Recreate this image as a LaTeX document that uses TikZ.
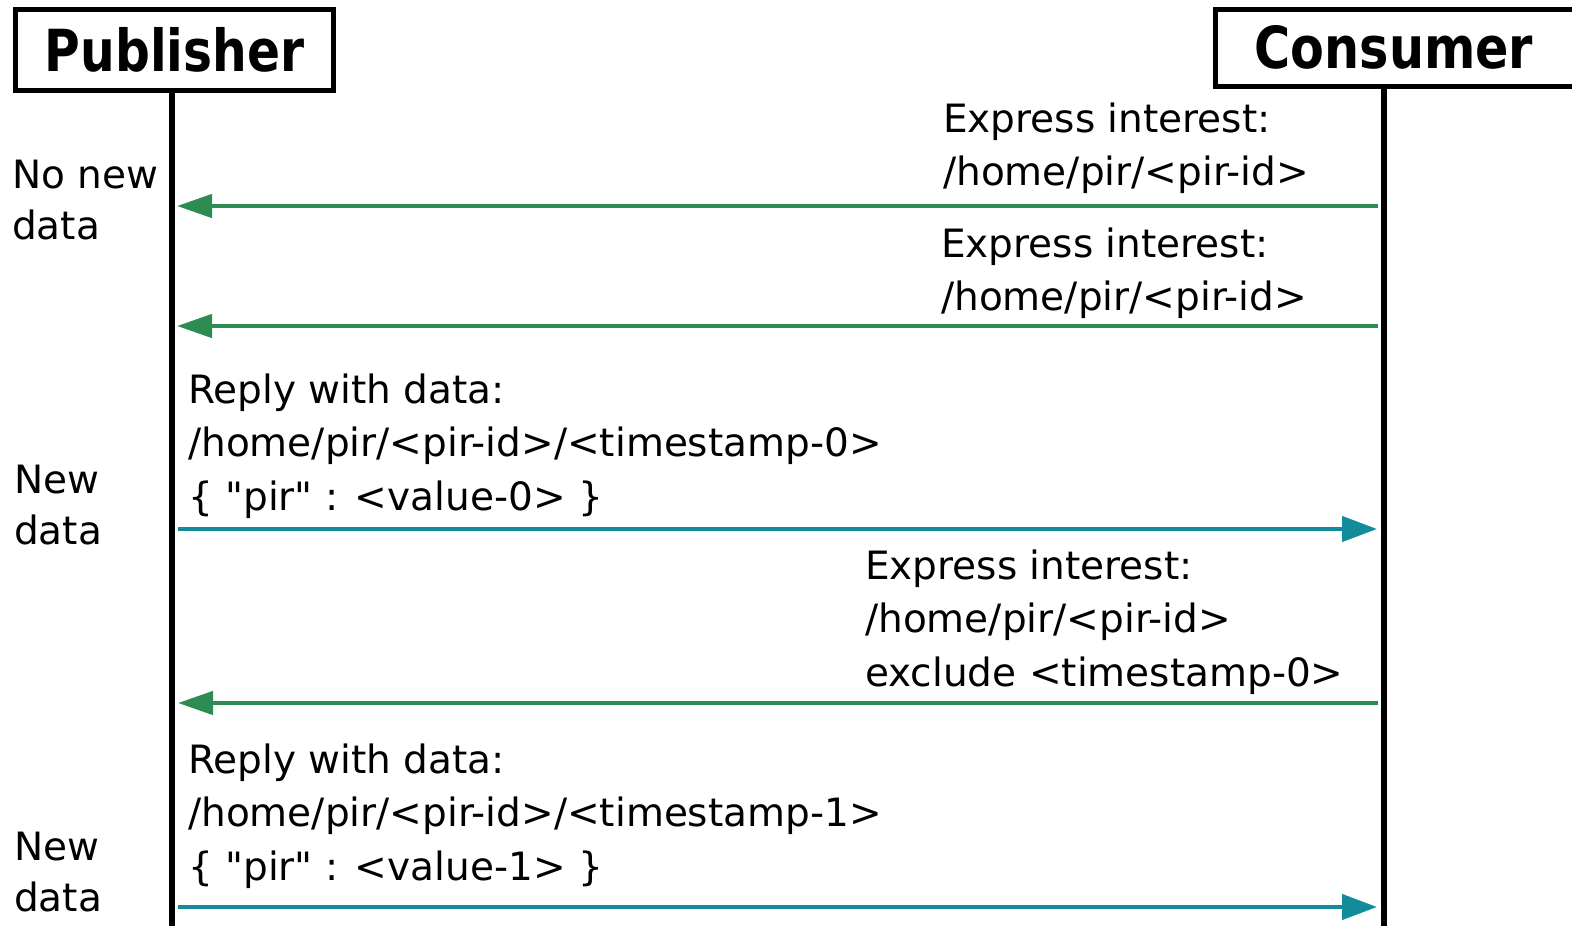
\documentclass[tikz,border=0pt]{standalone}
\usepackage{fontspec}
\setmainfont{DejaVu Sans}[Ligatures=TeXOff]
\usetikzlibrary{arrows.meta}
\definecolor{msggreen}{RGB}{44,140,84}
\definecolor{msgteal}{RGB}{18,140,154}
\newcommand{\lblfont}{\fontsize{39}{53.5}\selectfont}
\newcommand{\sidefont}{\fontsize{39}{51}\selectfont}
\newcommand{\ttlfont}{\fontsize{58}{64}\selectfont\bfseries}
\tikzset{
  lbl/.style={anchor=base west, inner sep=0pt, font=\lblfont},
  side/.style={anchor=base west, inner sep=0pt, font=\sidefont},
  titlebox/.style={draw=black, line width=5pt, inner sep=0pt, font=\ttlfont},
  life/.style={draw=black, line width=6pt},
  req/.style={draw=msggreen, line width=4.5pt, -{Triangle[length=35pt,width=23pt]}},
  rep/.style={draw=msgteal, line width=4.5pt, -{Triangle[length=35pt,width=25pt]}}
}
\begin{document}
\begin{tikzpicture}[x=1pt,y=-1pt]
\clip (0,0) rectangle (1572,926);
\fill[white] (0,0) rectangle (1572,926);

% title boxes
\node[titlebox, minimum width=318pt, minimum height=81pt] (pub) at (174.5,50) {\scalebox{0.84}[1]{Publisher}};
\node[titlebox, anchor=west, minimum height=77pt] (cons) at (1213,47.5) {\hspace*{39pt}\scalebox{0.85}[1]{Consumer}\hspace*{60pt}};

% lifelines
\coordinate (pb) at (171.5,930);
\coordinate (cb) at (1383.5,930);
\draw[life] (pub.south -| pb) -- (pb);
\draw[life] (cons.south -| cb) -- (cb);

% arrow end points
\coordinate (c1) at (1378,206); \coordinate (p1) at (177,206);
\coordinate (c2) at (1378,326); \coordinate (p2) at (177,326);
\coordinate (p3) at (178,529);  \coordinate (c3) at (1377,529);
\coordinate (c4) at (1378,703); \coordinate (p4) at (178,703);
\coordinate (p5) at (178,907);  \coordinate (c5) at (1377,907);

\draw[req] (c1) -- (p1);
\draw[req] (c2) -- (p2);
\draw[rep] (p3) -- (c3);
\draw[req] (c4) -- (p4);
\draw[rep] (p5) -- (c5);

% message labels
\node[lbl] (m1) at (943,132) {\begin{tabular}[t]{@{}l@{}}Express interest:\\/home/pir/<pir-id>\end{tabular}};
\node[lbl] (m2) at (941,257) {\begin{tabular}[t]{@{}l@{}}Express interest:\\/home/pir/<pir-id>\end{tabular}};
\node[lbl] (m3) at (188,403) {\begin{tabular}[t]{@{}l@{}}Reply with data:\\/home/pir/<pir-id>/<timestamp-0>\\\{ "pir" : <value-0> \}\end{tabular}};
\node[lbl] (m4) at (865,579) {\begin{tabular}[t]{@{}l@{}}Express interest:\\/home/pir/<pir-id>\\exclude <timestamp-0>\end{tabular}};
\node[lbl] (m5) at (188,773) {\begin{tabular}[t]{@{}l@{}}Reply with data:\\/home/pir/<pir-id>/<timestamp-1>\\\{ "pir" : <value-1> \}\end{tabular}};

% side labels
\node[side] (s1) at (12,188) {\begin{tabular}[t]{@{}l@{}}No new\\data\end{tabular}};
\node[side] (s2) at (14,493) {\begin{tabular}[t]{@{}l@{}}New\\data\end{tabular}};
\node[side] (s3) at (14,860) {\begin{tabular}[t]{@{}l@{}}New\\data\end{tabular}};
\end{tikzpicture}
\end{document}
